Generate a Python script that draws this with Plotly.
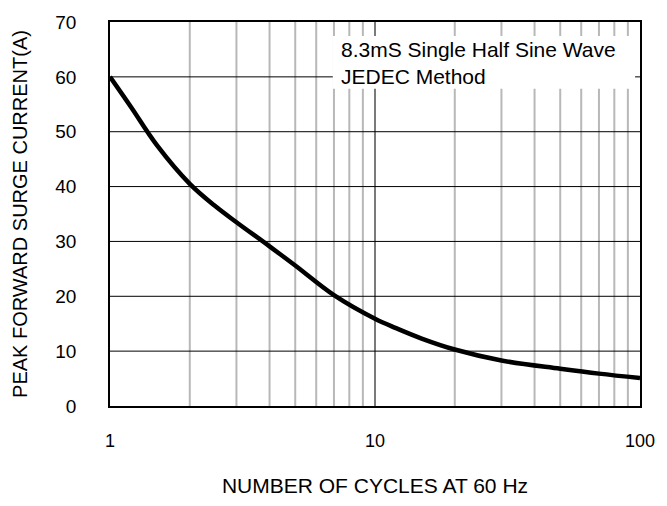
import plotly.graph_objects as go

cycles = [1, 1.2, 1.5, 2, 2.5, 3, 4, 5, 7, 10, 12, 15, 20, 30, 50, 70, 100]
current = [60, 54.5, 47.6, 40.5, 36.4, 33.5, 29.1, 25.6, 20.2, 15.9, 14.2, 12.3, 10.3, 8.3, 6.8, 5.9, 5.1]

x_ticks = [1, 10, 100]
x_tick_labels = ["1", "10", "100"]
y_ticks = [0, 10, 20, 30, 40, 50, 60, 70]

minor_x = [2, 3, 4, 5, 6, 7, 8, 9, 20, 30, 40, 50, 60, 70, 80, 90]

FONT = "Liberation Sans, Arial, sans-serif"

fig = go.Figure()

fig.add_trace(go.Scatter(
    x=cycles, y=current, mode="lines",
    line=dict(color="black", width=4.5, shape="spline", smoothing=1.0),
    showlegend=False, hoverinfo="skip",
))

shapes = []
for v in minor_x:
    shapes.append(dict(type="line", xref="x", yref="paper", x0=v, x1=v, y0=0, y1=1,
                       line=dict(color="#b8b8b8", width=2), layer="below"))
shapes.append(dict(type="line", xref="x", yref="paper", x0=10, x1=10, y0=0, y1=1,
                   line=dict(color="#7a7a7a", width=2), layer="below"))
for v in y_ticks[1:-1]:
    shapes.append(dict(type="line", xref="paper", yref="y", x0=0, x1=1, y0=v, y1=v,
                       line=dict(color="black", width=1), layer="below"))
# annotation box background
shapes.append(dict(type="rect", xref="paper", yref="paper",
                   x0=(337 - 110) / 540, x1=(645 - 110) / 540,
                   y0=(416.7 - 85) / 401.4, y1=(416.7 - 30) / 401.4,
                   fillcolor="white", line=dict(width=0), layer="between"))
fig.update_layout(shapes=shapes)

fig.add_annotation(
    xref="paper", yref="paper",
    x=(343 - 110) / 540, y=(416.7 - 58) / 401.4,
    xanchor="left", yanchor="middle", align="left",
    text="8.3mS Single Half Sine Wave<br>JEDEC Method",
    showarrow=False, font=dict(family=FONT, size=21, color="black"),
)

fig.update_xaxes(
    type="log", range=[0, 2],
    tickvals=x_ticks, ticktext=x_tick_labels,
    showgrid=False, zeroline=False,
    showline=True, linecolor="black", linewidth=1.5, mirror=True,
    ticks="", ticklabelstandoff=18,
    tickfont=dict(family=FONT, size=18, color="black"),
    title=dict(text="NUMBER OF CYCLES AT 60 Hz", standoff=28,
               font=dict(family=FONT, size=21, color="black")),
)
fig.update_yaxes(
    range=[0, 70], tickvals=y_ticks,
    showgrid=False, zeroline=False,
    showline=True, linecolor="black", linewidth=1.5, mirror=True,
    ticks="", ticklabelstandoff=28,
    tickfont=dict(family=FONT, size=19, color="black"),
    title=dict(text="PEAK FORWARD SURGE CURRENT(A)", standoff=22,
               font=dict(family=FONT, size=20, color="black")),
)

fig.update_layout(
    width=667, height=506,
    margin=dict(l=110, r=17, t=15, b=89),
    plot_bgcolor="white", paper_bgcolor="white",
)

fig.write_html("out.html", config={"displayModeBar": False},
               post_script="document.body.style.margin='0px';")
